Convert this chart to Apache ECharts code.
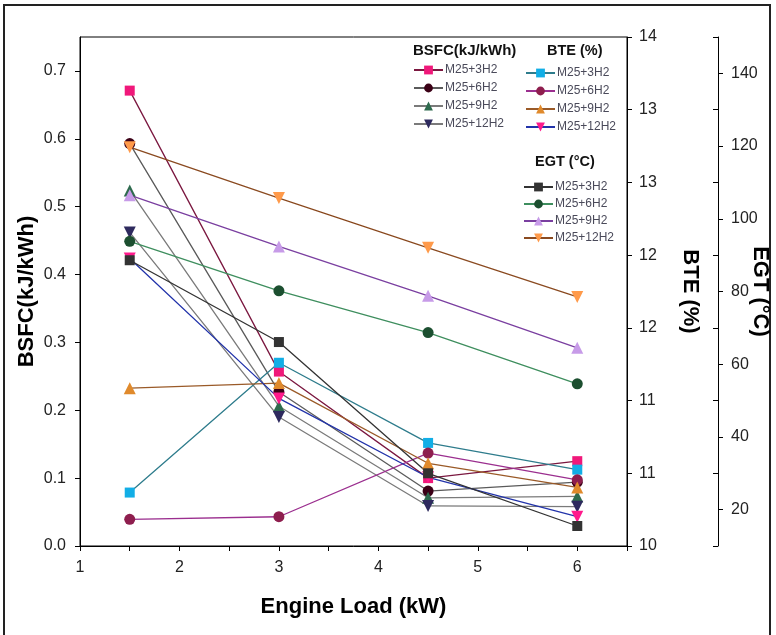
<!DOCTYPE html>
<html><head><meta charset="utf-8">
<script src="https://cdn.jsdelivr.net/npm/echarts@6/dist/echarts.min.js"></script>
<style>html,body{margin:0;padding:0;background:#fff}#c{width:776px;height:635px}</style>
</head><body><div id="c"></div>
<script>
// ---- data ----
const loads = [1.5, 3, 4.5, 6];
const blendNames = ['M25+3H2', 'M25+6H2', 'M25+9H2', 'M25+12H2'];

const bsfc3  = [0.671, 0.257, 0.100, 0.125];
const bsfc6  = [0.593, 0.227, 0.081, 0.094];
const bsfc9  = [0.524, 0.206, 0.071, 0.073];
const bsfc12 = [0.462, 0.190, 0.059, 0.058];

const bte3  = [10.42, 11.44, 10.81, 10.60];
const bte6  = [10.21, 10.23, 10.73, 10.52];
const bte9  = [11.24, 11.28, 10.65, 10.46];
const bte12 = [12.26, 11.16, 10.54, 10.23];

const egt3  = [88.6, 66.1, 30.0, 15.5];
const egt6  = [93.8, 80.2, 68.7, 54.6];
const egt9  = [106.5, 92.4, 78.8, 64.5];
const egt12 = [119.7, 105.7, 92.0, 78.5];

// ---- ticks / labels ----
const xLabelTicks = [1, 2, 3, 4, 5, 6];
const xTickMarks = [1, 1.5, 2, 2.5, 3, 3.5, 4, 4.5, 5, 5.5, 6, 6.5];
const bsfcTicks = [0, 0.1, 0.2, 0.3, 0.4, 0.5, 0.6, 0.7];
const bteTicks = [10, 10.5714, 11.1429, 11.7143, 12.2857, 12.8571, 13.4286, 14];
const bteLabels = ['10', '11', '11', '12', '12', '13', '13', '14'];
const egtLabelTicks = [20, 40, 60, 80, 100, 120, 140];
const egtInnerTicks = [10, 30, 50, 70, 90, 110, 130, 150];

const FONT = 'Liberation Sans, Arial, sans-serif';
const pair = v => loads.map((x, i) => [x, v[i]]);

function mk(group, idx, vals, yIdx, lineColor, itemColor, symbol, rot, size) {
  return {
    name: group + '|' + blendNames[idx], type: 'line', yAxisIndex: yIdx,
    data: pair(vals), symbol: symbol, symbolRotate: rot, symbolSize: size,
    lineStyle: { color: lineColor, width: 1.3 },
    itemStyle: { color: itemColor },
    emphasis: { disabled: true }, z: 2
  };
}

const series = [
  mk('BSFC', 0, bsfc3, 0, '#7B1840', '#F0187A', 'rect', 0, 10),
  mk('BSFC', 1, bsfc6, 0, '#5a5a5a', '#3B0016', 'circle', 0, 11),
  mk('BSFC', 2, bsfc9, 0, '#7a7a7a', '#2E6B4E', 'triangle', 0, 12),
  mk('BSFC', 3, bsfc12, 0, '#7a7a7a', '#2E2A5E', 'triangle', 180, 12),
  mk('BTE', 0, bte3, 1, '#2E7C8C', '#12AEE6', 'rect', 0, 10),
  mk('BTE', 1, bte6, 1, '#9B2F8F', '#8E1E4E', 'circle', 0, 11),
  mk('BTE', 2, bte9, 1, '#9A5A28', '#E08A2C', 'triangle', 0, 12),
  mk('BTE', 3, bte12, 1, '#2233AA', '#FF1A8C', 'triangle', 180, 12),
  mk('EGT', 0, egt3, 2, '#333333', '#333333', 'rect', 0, 10),
  mk('EGT', 1, egt6, 2, '#3E8E5E', '#1C4F30', 'circle', 0, 11),
  mk('EGT', 2, egt9, 2, '#7A3FA0', '#C79BE8', 'triangle', 0, 12),
  mk('EGT', 3, egt12, 2, '#8A4A20', '#FF9A4A', 'triangle', 180, 12)
];

function legendFor(group, left, top, gap) {
  return {
    data: blendNames.map(n => group + '|' + n),
    formatter: n => n.split('|')[1],
    orient: 'vertical', left: left, top: top,
    itemWidth: 29, itemHeight: 11, itemGap: gap, padding: 0,
    textStyle: { fontSize: 12, color: '#4a4a5a', fontFamily: FONT, padding: [0, 0, 0, -3] },
    selectedMode: false
  };
}

const axisCommon = {
  axisLine: { show: true, lineStyle: { color: '#000', width: 1 } },
  splitLine: { show: false },
  axisLabel: { fontSize: 16, color: '#222', fontFamily: FONT },
  nameMoveOverlap: false,
  nameTextStyle: { fontSize: 22, fontWeight: 'bold', color: '#000', fontFamily: FONT }
};

const option = {
  animation: false,
  backgroundColor: '#fff',
  textStyle: { fontFamily: FONT },
  grid: { left: 80, right: 149, top: 37, bottom: 89, show: true, borderColor: '#000', borderWidth: 1, containLabel: false, outerBoundsMode: 'none' },
  title: [
    { text: 'BSFC(kJ/kWh)', left: 413, top: 43, padding: 0, textStyle: { fontSize: 15, fontWeight: 'bold', color: '#111', fontFamily: FONT } },
    { text: 'BTE (%)', left: 547, top: 43, padding: 0, textStyle: { fontSize: 14.5, fontWeight: 'bold', color: '#111', fontFamily: FONT } },
    { text: 'EGT (°C)', left: 535, top: 154, padding: 0, textStyle: { fontSize: 14.5, fontWeight: 'bold', color: '#111', fontFamily: FONT } }
  ],
  legend: [
    legendFor('BSFC', 413, 64, 6),
    legendFor('BTE', 525, 67, 6),
    legendFor('EGT', 523, 181, 5)
  ],
  graphic: [
    { type: 'rect', shape: { x: 4, y: 5, width: 766, height: 700 }, style: { fill: 'none', stroke: '#222', lineWidth: 2 }, silent: true, z: -10 }
  ],
  xAxis: Object.assign({}, axisCommon, {
    type: 'value', min: 1, max: 6.5,
    name: 'Engine Load (kW)', nameLocation: 'middle', nameGap: 50,
    axisTick: { show: true, length: 5, customValues: xTickMarks, lineStyle: { color: '#000' } },
    axisLabel: Object.assign({}, axisCommon.axisLabel, { customValues: xLabelTicks, margin: 14 })
  }),
  yAxis: [
    Object.assign({}, axisCommon, {
      type: 'value', position: 'left', min: 0, max: 0.75,
      name: 'BSFC(kJ/kWh)', nameLocation: 'middle', nameGap: 42, nameRotate: 90,
      axisTick: { show: true, length: 5, customValues: bsfcTicks, lineStyle: { color: '#000' } },
      axisLabel: Object.assign({}, axisCommon.axisLabel, { customValues: bsfcTicks, margin: 14, formatter: v => v.toFixed(1) })
    }),
    Object.assign({}, axisCommon, {
      type: 'value', position: 'right', min: 10, max: 14,
      name: 'BTE (%)', nameLocation: 'middle', nameGap: 52, nameRotate: -90,
      axisTick: { show: true, length: 5, customValues: bteTicks, lineStyle: { color: '#000' } },
      axisLabel: Object.assign({}, axisCommon.axisLabel, {
        customValues: bteTicks, margin: 12,
        formatter: v => { let b = 0; bteTicks.forEach((t, i) => { if (Math.abs(t - v) < Math.abs(bteTicks[b] - v)) b = i; }); return bteLabels[b]; }
      })
    }),
    Object.assign({}, axisCommon, {
      type: 'value', position: 'right', offset: 91, min: 10, max: 150,
      name: 'EGT (°C)', nameLocation: 'middle', nameGap: 31, nameRotate: -90,
      axisTick: { show: true, length: 5, customValues: egtLabelTicks, lineStyle: { color: '#000' } },
      axisLabel: Object.assign({}, axisCommon.axisLabel, { customValues: egtLabelTicks, margin: 13 })
    }),
    {
      type: 'value', position: 'right', offset: 91, min: 10, max: 150,
      axisLine: { show: false }, splitLine: { show: false },
      axisTick: { show: true, inside: true, length: 5, customValues: egtInnerTicks, lineStyle: { color: '#000' } },
      axisLabel: { show: false }
    }
  ],
  series: series
};

echarts.init(document.getElementById('c'), null, { renderer: 'canvas' }).setOption(option);
</script>
</body></html>
